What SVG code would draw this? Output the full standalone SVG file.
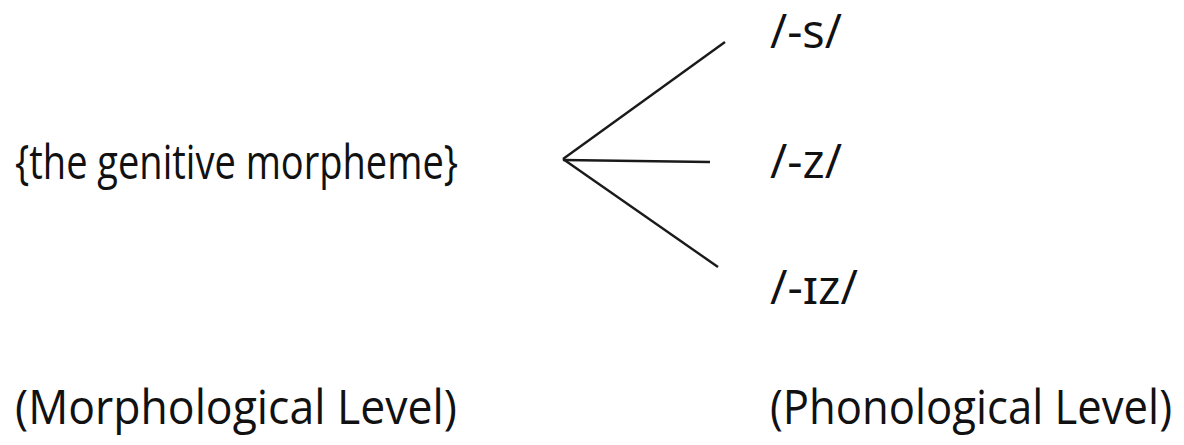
<svg xmlns="http://www.w3.org/2000/svg" width="1184" height="445" viewBox="0 0 1184 445">
<style>
text{font-family:"Open Sans","Noto Sans","Liberation Sans",sans-serif;fill:#111;font-size:47px}
.c{stroke:#1a1a1a;stroke-width:2.4;fill:none}
</style>
<rect width="1184" height="445" fill="#fff"/>
<g id="morpheme"><text transform="translate(15,179) scale(0.8,1)" textLength="553.75" lengthAdjust="spacingAndGlyphs">{the genitive morpheme}</text></g>
<g id="s"><text x="770" y="48" textLength="72" lengthAdjust="spacingAndGlyphs">/-s/</text></g>
<g id="z"><text x="770" y="178" textLength="72" lengthAdjust="spacingAndGlyphs">/-z/</text></g>
<g id="iz"><text x="770" y="304" textLength="88" lengthAdjust="spacingAndGlyphs">/-ɪz/</text></g>
<g id="morph-level"><text transform="translate(15,424) scale(0.8,1)" textLength="552.5" lengthAdjust="spacingAndGlyphs">(Morphological Level)</text></g>
<g id="phon-level"><text transform="translate(770,424) scale(0.8,1)" textLength="502.5" lengthAdjust="spacingAndGlyphs">(Phonological Level)</text></g>
<g id="connectors">
<line class="c" x1="563" y1="159" x2="725" y2="42"/>
<line class="c" x1="563" y1="160" x2="710" y2="162"/>
<line class="c" x1="563" y1="159" x2="718" y2="267"/>
</g>
</svg>
